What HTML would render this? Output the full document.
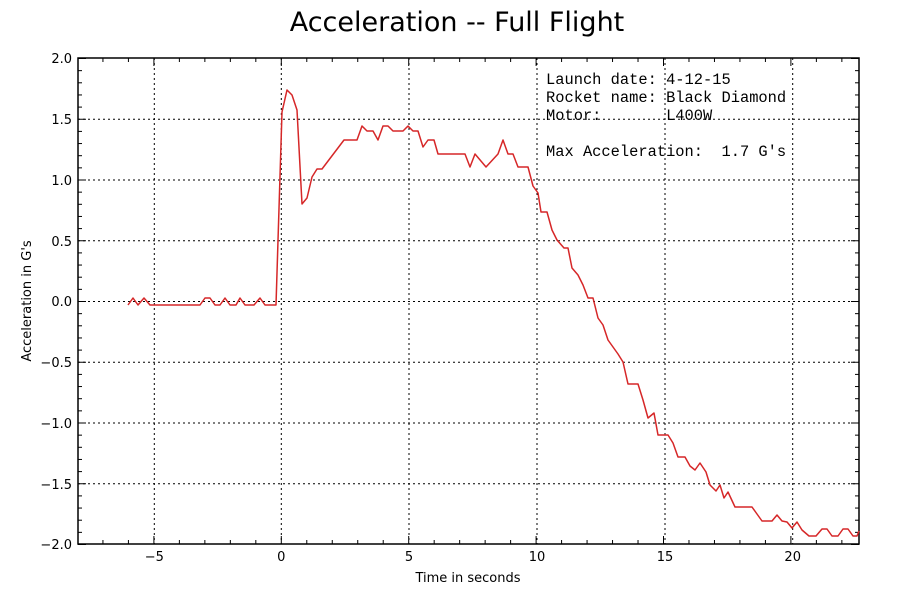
<!DOCTYPE html>
<html><head><meta charset="utf-8"><style>
body{margin:0;background:#fff;width:900px;height:600px;overflow:hidden}
svg text{font-family:"DejaVu Sans","Liberation Sans",sans-serif;fill:#000}
svg text.m{font-family:"Liberation Mono",monospace}
</style></head><body>
<svg width="900" height="600" xmlns="http://www.w3.org/2000/svg">
<text x="457" y="31" font-size="27" text-anchor="middle">Acceleration -- Full Flight</text>
<g stroke="#000" stroke-width="1" stroke-dasharray="2,3">
<line x1="154.3" y1="58" x2="154.3" y2="544"/><line x1="281.3" y1="58" x2="281.3" y2="544"/>
<line x1="409" y1="58" x2="409" y2="544"/><line x1="537" y1="58" x2="537" y2="544"/>
<line x1="665" y1="58" x2="665" y2="544"/><line x1="792.7" y1="58" x2="792.7" y2="544"/>
<line x1="78" y1="119.3" x2="859" y2="119.3"/><line x1="78" y1="180" x2="859" y2="180"/>
<line x1="78" y1="240.8" x2="859" y2="240.8"/><line x1="78" y1="301.5" x2="859" y2="301.5"/>
<line x1="78" y1="362.3" x2="859" y2="362.3"/><line x1="78" y1="423" x2="859" y2="423"/>
<line x1="78" y1="483.8" x2="859" y2="483.8"/>
</g>
<g id="ticks" stroke="#000" stroke-width="1"></g>
<rect x="78" y="58" width="781" height="486" fill="none" stroke="#000" stroke-width="1.5"/>
<polyline fill="none" stroke="#d62728" stroke-width="1.5" stroke-linejoin="round" points="128,305 133,298 138,305 144,298 150,305 200,305 205,298 210,298 215,305 220,305 225,298 230,305 236,305 240,298 245,305 254,305 260,298 265,305 276,305 282,112 287,90 292,95 297,110 302,204 307,198 312,177 317,169 322,169 344,140 357,140 362,126 367,131 373,131 378,140 383,126 388,126 393,131 403,131 408,126 413,131 418,131 423,147 428,140 434,140 438,154 465,154 470,167 475,154 486,167 498,154 503,140 508,154 513,154 518,167 528,167 533,186 538,193 541,212 547,212 552,230 557,240 564,248 568,248 572,268 578,275 583,285 588,298 593,298 598,318 603,325 608,340 613,347 618,354 623,362 628,384 638,384 643,400 648,418 654,413 658,435 668,435 673,443 678,457 685,457 690,466 695,470 700,463 706,472 710,485 716,491 720,485 724,498 728,492 735,507 752,507 757,514 762,521 772,521 777,515 782,521 787,522 792,528 797,522 802,530 809,536 816,536 822,529 827,529 832,536 838,536 843,529 848,529 853,536 857,536 859,531"/>
<g font-size="13" text-anchor="end">
<text x="72" y="63">2.0</text><text x="72" y="124">1.5</text><text x="72" y="185">1.0</text>
<text x="72" y="246">0.5</text><text x="72" y="306">0.0</text><text x="72" y="367">−0.5</text>
<text x="72" y="428">−1.0</text><text x="72" y="489">−1.5</text><text x="72" y="549">−2.0</text>
</g>
<g font-size="13" text-anchor="middle">
<text x="154.3" y="561">−5</text><text x="281.3" y="561">0</text><text x="409" y="561">5</text>
<text x="537" y="561">10</text><text x="665" y="561">15</text><text x="792.7" y="561">20</text>
</g>
<text x="468" y="582" font-size="13" text-anchor="middle">Time in seconds</text>
<text transform="translate(31,301) rotate(-90)" font-size="13" text-anchor="middle">Acceleration in G's</text>
<g font-size="15.4">
<text class="m" x="546" y="84" xml:space="preserve">Launch date: 4-12-15</text>
<text class="m" x="546" y="102" xml:space="preserve">Rocket name: Black Diamond</text>
<text class="m" x="546" y="120" xml:space="preserve">Motor:       L400W</text>
<text class="m" x="546" y="156" xml:space="preserve">Max Acceleration:  1.7 G's</text>
</g>
</svg>
<script>
var g=document.getElementById('ticks'),s='';
for(var v=-8;v<=22;v++){var x=281.3+v*25.48;if(x<78||x>859)continue;var L=(v%5==0)?8:4;
s+='<line x1="'+x+'" y1="544" x2="'+x+'" y2="'+(544-L)+'"/><line x1="'+x+'" y1="58" x2="'+x+'" y2="'+(58+L)+'"/>';}
for(var i=-20;i<=20;i++){var y=301.5-i*12.15;var L=(i%5==0)?8:4;
s+='<line x1="78" y1="'+y+'" x2="'+(78+L)+'" y2="'+y+'"/><line x1="859" y1="'+y+'" x2="'+(859-L)+'" y2="'+y+'"/>';}
g.innerHTML=s;
</script>
</body></html>
